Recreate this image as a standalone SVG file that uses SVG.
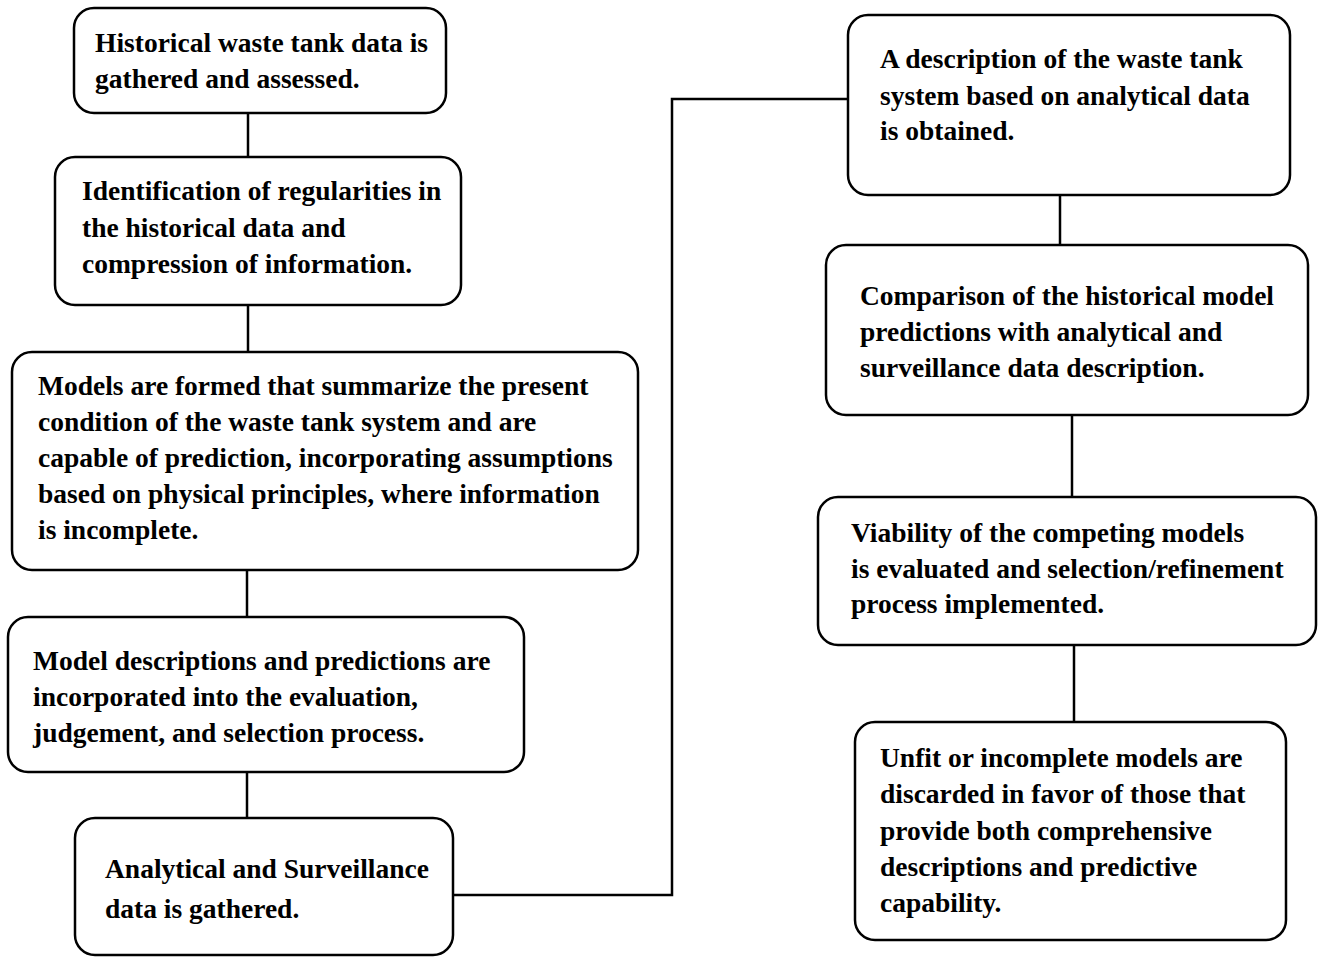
<svg xmlns="http://www.w3.org/2000/svg" width="1320" height="958" viewBox="0 0 1320 958">
<style>
.box{fill:#fff;stroke:#000;stroke-width:2.5}
.t{font-family:"Liberation Serif","Times New Roman",serif;font-size:27.5px;font-weight:bold;fill:#000}
.c{fill:none;stroke:#000;stroke-width:2.5}
</style>
<rect width="1320" height="958" fill="#fff"/>
<g id="connectors">
<line class="c" x1="248" y1="113" x2="248" y2="157"/>
<line class="c" x1="248" y1="305" x2="248" y2="352"/>
<line class="c" x1="247" y1="570" x2="247" y2="617"/>
<line class="c" x1="247" y1="772" x2="247" y2="818"/>
<polyline class="c" points="453,895 672,895 672,99 848,99"/>
<line class="c" x1="1060" y1="195" x2="1060" y2="245"/>
<line class="c" x1="1072" y1="415" x2="1072" y2="497"/>
<line class="c" x1="1074" y1="645" x2="1074" y2="722"/>
</g>
<g id="n1"><rect class="box" x="74" y="8" width="372" height="105" rx="20"/>
<text class="t" x="95" y="52">Historical waste tank data is</text>
<text class="t" x="95" y="88">gathered and assessed.</text></g>
<g id="n2"><rect class="box" x="55" y="157" width="406" height="148" rx="20"/>
<text class="t" x="82" y="200">Identification of regularities in</text>
<text class="t" x="82" y="237">the historical data and</text>
<text class="t" x="82" y="273">compression of information.</text></g>
<g id="n3"><rect class="box" x="12" y="352" width="626" height="218" rx="20"/>
<text class="t" x="38" y="395">Models are formed that summarize the present</text>
<text class="t" x="38" y="431">condition of the waste tank system and are</text>
<text class="t" x="38" y="467">capable of prediction, incorporating assumptions</text>
<text class="t" x="38" y="503">based on physical principles, where information</text>
<text class="t" x="38" y="539">is incomplete.</text></g>
<g id="n4"><rect class="box" x="8" y="617" width="516" height="155" rx="20"/>
<text class="t" x="33" y="670">Model descriptions and predictions are</text>
<text class="t" x="33" y="706">incorporated into the evaluation,</text>
<text class="t" x="33" y="742">judgement, and selection process.</text></g>
<g id="n5"><rect class="box" x="75" y="818" width="378" height="137" rx="20"/>
<text class="t" x="105" y="878">Analytical and Surveillance</text>
<text class="t" x="105" y="918">data is gathered.</text></g>
<g id="n6"><rect class="box" x="848" y="15" width="442" height="180" rx="20"/>
<text class="t" x="880" y="68">A description of the waste tank</text>
<text class="t" x="880" y="105">system based on analytical data</text>
<text class="t" x="880" y="140">is obtained.</text></g>
<g id="n7"><rect class="box" x="826" y="245" width="482" height="170" rx="20"/>
<text class="t" x="860" y="305">Comparison of the historical model</text>
<text class="t" x="860" y="341">predictions with analytical and</text>
<text class="t" x="860" y="377">surveillance data description.</text></g>
<g id="n8"><rect class="box" x="818" y="497" width="498" height="148" rx="20"/>
<text class="t" x="851" y="542">Viability of the competing models</text>
<text class="t" x="851" y="578">is evaluated and selection/refinement</text>
<text class="t" x="851" y="613">process implemented.</text></g>
<g id="n9"><rect class="box" x="855" y="722" width="431" height="218" rx="20"/>
<text class="t" x="880" y="767">Unfit or incomplete models are</text>
<text class="t" x="880" y="803">discarded in favor of those that</text>
<text class="t" x="880" y="840">provide both comprehensive</text>
<text class="t" x="880" y="876">descriptions and predictive</text>
<text class="t" x="880" y="912">capability.</text></g>
</svg>
